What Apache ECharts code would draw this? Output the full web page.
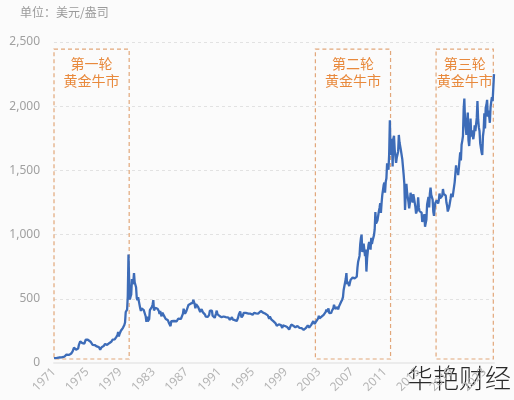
<!DOCTYPE html>
<html>
<head>
<meta charset="utf-8">
<script src="https://cdn.jsdelivr.net/npm/echarts@6/dist/echarts.min.js"></script>
<style>html,body{margin:0;padding:0;background:#fbfbfb;}#c{width:514px;height:400px;}</style>
</head>
<body>
<div id="c"></div>
<script>
// Monthly gold price (USD/oz), Jan 1971 onward
const startYear = 1971;
const gold1970s = [
  37.9,38.7,38.9,39.0,40.5,40.1,41.0,42.7,42.0,42.5,42.9,43.5,
  46,48,48.3,49,54.6,62,65,67,65,64.9,62.9,63.9,
  65,74,84,90,102,120,120,106,103,100,94,112,
  139,150,168,172,163,154,143,154,151,158,181,190,
  176,181,178,167,167,166,166,160,141,143,138,140,
  128,132,129,128,126,124,112,104,116,123,130,134,
  132,142,148,148,147,141,150,146,154,162,161,165,
  175,182,181,170,184,183,200,208,217,242,206,226,
  233,251,240,245,274,277,296,315,397,382,415,524
];
const gold1980s = [
  845,636,494,517,535,653,615,631,700,629,619,590,
  506,489,513,482,479,426,406,425,428,427,414,397,
  387,362,320,361,325,315,342,411,397,423,437,456,
  490,409,415,430,437,416,423,414,405,382,405,380,
  363,392,394,373,385,373,342,348,343,334,331,308,
  304,287,325,318,316,317,327,333,325,325,325,327,
  345,338,344,345,343,345,357,384,423,401,383,391,
  405,406,418,452,451,447,462,453,459,468,492,484,
  458,426,457,451,451,436,436,430,397,412,420,410,
  394,387,383,377,361,373,368,359,366,375,408,401
];
const gold1990s = [
  415,407,368,367,363,352,362,387,408,380,384,386,
  366,363,355,357,360,368,362,347,354,357,366,353,
  354,353,341,336,337,343,357,340,349,339,334,333,
  330,327,337,354,377,378,401,372,355,369,371,391,
  377,381,391,376,387,386,384,385,395,384,383,383,
  375,377,391,389,385,387,383,382,384,383,387,387,
  405,400,396,392,390,382,385,386,379,379,371,369,
  345,363,352,340,345,334,326,325,332,311,296,290,
  302,297,301,310,293,296,288,273,293,292,294,288,
  287,287,280,287,268,261,255,255,299,310,292,290
];
const gold2000s = [
  284,293,278,274,272,288,276,277,273,264,270,272,
  265,267,258,263,267,271,266,273,293,279,275,277,
  282,297,302,308,326,318,304,312,323,316,319,347,
  367,347,334,339,361,346,354,375,388,384,398,416,
  399,395,426,388,393,395,391,407,415,425,453,438,
  422,435,427,435,417,437,429,433,473,470,495,513,
  569,556,582,654,700,613,632,623,599,603,646,632,
  650,665,661,679,659,650,665,672,743,789,783,834,
  923,971,1000,865,885,930,918,833,884,712,814,869,
  919,942,916,883,975,926,955,955,996,1040,1175,1087
];
const gold2010s = [
  1078,1109,1113,1180,1207,1244,1169,1246,1307,1346,1386,1405,
  1327,1411,1439,1556,1536,1505,1628,1890,1620,1722,1746,1531,
  1744,1770,1662,1651,1558,1598,1622,1648,1776,1719,1726,1657,
  1664,1588,1598,1467,1394,1192,1314,1395,1326,1324,1253,1204,
  1244,1326,1291,1288,1250,1315,1285,1285,1216,1164,1182,1199,
  1290,1212,1183,1180,1190,1171,1098,1135,1115,1160,1061,1050,
  1118,1234,1232,1293,1212,1320,1366,1309,1322,1272,1178,1146,
  1210,1248,1245,1266,1268,1242,1269,1320,1283,1270,1275,1303,
  1355,1318,1325,1315,1303,1250,1224,1180,1187,1215,1222,1279,
  1319,1316,1292,1284,1305,1409,1413,1540,1485,1511,1464,1515
];
const gold2020s = [
  1582,1640,1577,1700,1730,1768,1975,2060,1886,1900,1776,1888,
  1950,1734,1690,1768,1903,1763,1812,1813,1743,1783,1850,1806,
  1797,1909,2040,1897,1837,1807,1710,1711,1640,1620,1768,1812,
  1945,1827,1990,2010,2050,1919,1965,1920,1871,1990,2036,2070,
  2039,2044,2250
];
const gold = [].concat(gold1970s, gold1980s, gold1990s, gold2000s, gold2010s, gold2020s);
const months = gold.map((v, i) => {
  const y = startYear + Math.floor(i / 12);
  const m = (i % 12) + 1;
  return y + '-' + (m < 10 ? '0' + m : m);
});
const yTicks = [0, 500, 1000, 1500, 2000, 2500];
const bullMarkets = [
  { name: '第一轮\n黄金牛市', from: '1971-01', to: '1980-02' },
  { name: '第二轮\n黄金牛市', from: '2002-08', to: '2011-09' },
  { name: '第三轮\n黄金牛市', from: '2017-03', to: '2024-02' }
];

const chart = echarts.init(document.getElementById('c'));
chart.setOption({
  backgroundColor: '#fbfbfb',
  animation: false,
  grid: { left: 54, right: 20, top: 42, bottom: 37 },
  graphic: [
    { type: 'text', left: 20, top: 6, style: { text: '单位：美元/盎司', fill: '#9a9a9a', font: '12px "Noto Sans CJK SC"' } },
    { type: 'text', left: 407, top: 365, style: { text: '华艳财经', fill: '#2a2a2a', font: '300 26px "Noto Sans CJK SC"' } }
  ],
  xAxis: {
    type: 'category',
    data: months,
    boundaryGap: false,
    axisLine: { show: true, lineStyle: { color: '#ececec', width: 2 } },
    axisTick: { show: false },
    axisLabel: {
      rotate: 45,
      color: '#b5b5b5',
      fontSize: 12,
      fontFamily: 'Noto Sans',
      margin: 7,
      interval: function (idx, val) {
        const y = +val.slice(0, 4), m = val.slice(5);
        return m === '01' && (y - 1971) % 4 === 0;
      },
      formatter: function (val) { return val.slice(0, 4); }
    },
    splitLine: { show: false }
  },
  yAxis: {
    type: 'value',
    min: yTicks[0],
    max: yTicks[yTicks.length - 1],
    interval: 500,
    axisLine: { show: false },
    axisTick: { show: false },
    axisLabel: {
      color: '#a0a0a0', fontSize: 12, fontFamily: 'Noto Sans', margin: 14,
      formatter: function (v) { return v.toLocaleString('en-US'); }
    },
    splitLine: { lineStyle: { color: '#e2e2e2', type: [3, 3] } }
  },
  series: [{
    type: 'line',
    data: gold,
    showSymbol: false,
    symbol: 'none',
    lineStyle: { color: '#3d6cb8', width: 2.3 },
    markArea: {
      silent: true,
      itemStyle: { color: 'rgba(0,0,0,0)', borderColor: '#e2a77a', borderWidth: 1.2, borderType: [4, 3] },
      label: {
        show: true, position: 'insideTop', distance: 7,
        color: '#e8893c', fontSize: 14, lineHeight: 17, align: 'center',
        fontFamily: 'Noto Sans CJK SC'
      },
      data: bullMarkets.map(b => [
        { name: b.name, xAxis: b.from, yAxis: 2445 },
        { xAxis: b.to, yAxis: 31 }
      ])
    }
  }]
});
</script>
</body>
</html>
